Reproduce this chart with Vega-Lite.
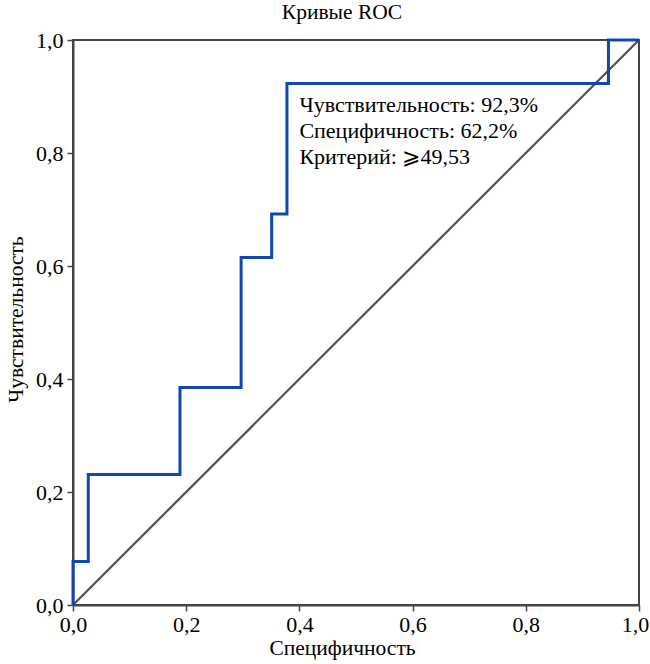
{
  "$schema": "https://vega.github.io/schema/vega-lite/v6.json",
  "width": 566,
  "height": 565,
  "autosize": {"type": "none"},
  "padding": {"left": 73, "top": 40, "right": 11, "bottom": 59},
  "background": "white",
  "title": {"text": "Кривые ROC", "font": "Liberation Serif", "fontSize": 21.5, "fontWeight": "normal", "color": "black", "anchor": "middle", "offset": 6, "dx": -14},
  "config": {
    "view": {"stroke": "#444", "strokeWidth": 2},
    "axis": {
      "grid": false,
      "labelFlush": false,
      "domainColor": "#444", "domainWidth": 2,
      "tickColor": "#444", "tickWidth": 1.5, "tickSize": 6,
      "labelFont": "Liberation Serif", "labelFontSize": 22, "labelColor": "black",
      "titleFont": "Liberation Serif", "titleFontSize": 21.5, "titleFontWeight": "normal", "titleColor": "black"
    }
  },
  "datasets": {
    "roc": [
      {"order": 1, "fpr": 0, "tpr": 0},
      {"order": 2, "fpr": 0, "tpr": 0.077},
      {"order": 3, "fpr": 0.027, "tpr": 0.077},
      {"order": 4, "fpr": 0.027, "tpr": 0.231},
      {"order": 5, "fpr": 0.189, "tpr": 0.231},
      {"order": 6, "fpr": 0.189, "tpr": 0.385},
      {"order": 7, "fpr": 0.297, "tpr": 0.385},
      {"order": 8, "fpr": 0.297, "tpr": 0.615},
      {"order": 9, "fpr": 0.351, "tpr": 0.615},
      {"order": 10, "fpr": 0.351, "tpr": 0.692},
      {"order": 11, "fpr": 0.378, "tpr": 0.692},
      {"order": 12, "fpr": 0.378, "tpr": 0.923},
      {"order": 13, "fpr": 0.946, "tpr": 0.923},
      {"order": 14, "fpr": 0.946, "tpr": 1},
      {"order": 15, "fpr": 1, "tpr": 1}
    ],
    "diag": [
      {"fpr": 0, "tpr": 0},
      {"fpr": 1, "tpr": 1}
    ],
    "notes": [
      {"fpr": 0.40, "tpr": 0.8726, "label": "Чувствительность: 92,3%"},
      {"fpr": 0.40, "tpr": 0.8265, "label": "Специфичность: 62,2%"},
      {"fpr": 0.40, "tpr": 0.7805, "label": "Критерий: ⩾49,53"}
    ]
  },
  "layer": [
    {
      "data": {"name": "diag"},
      "mark": {"type": "line", "color": "#505050", "strokeWidth": 2.2},
      "encoding": {
        "x": {"field": "fpr", "type": "quantitative", "scale": {"domain": [0, 1], "nice": false},
              "axis": {"title": "Специфичность", "values": [0, 0.2, 0.4, 0.6, 0.8, 1], "labelExpr": "replace(format(datum.value, '.1f'), '.', ',')", "labelOffset": {"expr": "datum.value == 1 ? -4 : 0"}, "labelPadding": 3, "titlePadding": 2, "titleX": 269}},
        "y": {"field": "tpr", "type": "quantitative", "scale": {"domain": [0, 1], "nice": false},
              "axis": {"title": "Чувствительность", "values": [0, 0.2, 0.4, 0.6, 0.8, 1], "labelExpr": "replace(format(datum.value, '.1f'), '.', ',')", "labelPadding": 4, "titlePadding": 8, "titleY": 279}}
      }
    },
    {
      "data": {"name": "roc"},
      "mark": {"type": "line", "color": "#1247b2", "strokeWidth": 3},
      "encoding": {
        "x": {"field": "fpr", "type": "quantitative"},
        "y": {"field": "tpr", "type": "quantitative"},
        "order": {"field": "order", "type": "quantitative"}
      }
    },
    {
      "data": {"name": "notes"},
      "mark": {"type": "text", "align": "left", "baseline": "alphabetic", "font": "Liberation Serif", "fontSize": 22, "color": "black"},
      "encoding": {
        "x": {"field": "fpr", "type": "quantitative"},
        "y": {"field": "tpr", "type": "quantitative"},
        "text": {"field": "label"}
      }
    }
  ]
}
